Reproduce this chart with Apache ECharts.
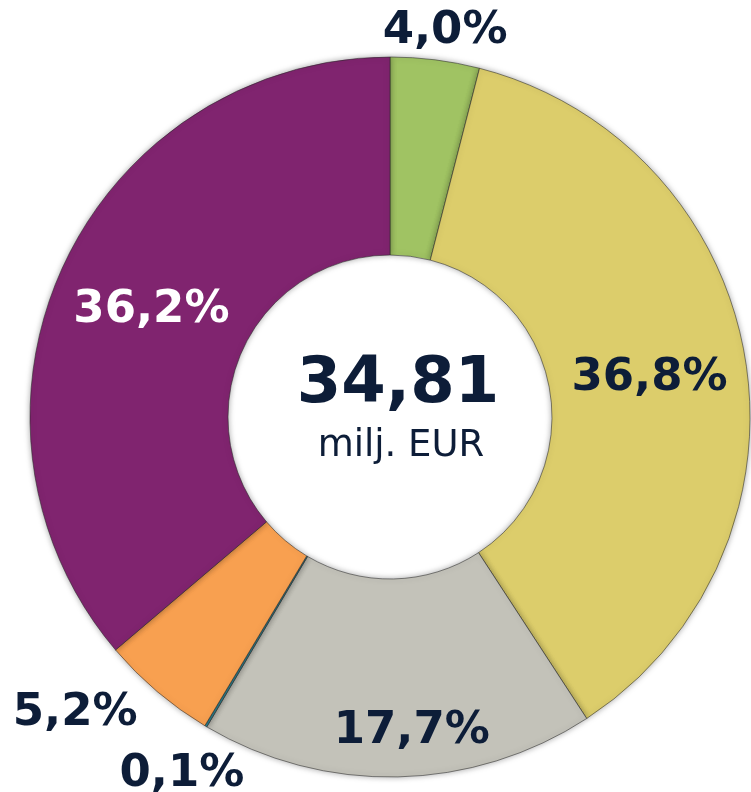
<!DOCTYPE html>
<html lang="fi">
    <head>
        <meta charset="UTF-8">
        <script src="https://cdn.jsdelivr.net/npm/echarts@6/dist/echarts.min.js"></script>
        <title>34,81 milj. EUR</title>
        <style>
            html, body { margin: 0; padding: 0; background: #fff; }
        </style>
    </head>
    <body>
        <div id="main" style="width: 751px; height: 792px;"></div>
    </body>
    <script>
        // osuudet myötäpäivään klo 12:sta alkaen
        var shares = [4.0, 36.8, 17.7, 0.1, 5.2, 36.2];
        var colors = ["#a0c363", "#dccd6b", "#c3c2b9", "#2f8d9c", "#f8a050", "#80246f"];
        var labelColors = ["#0d1d38", "#0d1d38", "#0d1d38", "#0d1d38", "#0d1d38", "#ffffff"];
        var totalText = "34,81";
        var unitText = "milj. EUR";

        // labelien siirto sektorin keskikohdasta (px)
        var labelOffsets = [[22, -124], [-1, 4], [16, 50], [-73, 130], [-144, 95], [1, 4]];

        var data = shares.map(function (v, i) {
            return {
                value: v,
                itemStyle: { color: colors[i] },
                label: {
                    color: labelColors[i],
                    offset: labelOffsets[i]
                }
            };
        });

        var myCharts = echarts.init(document.querySelector("#main"));
        var option = {
            animation: false,
            graphic: [
                {
                    type: "text",
                    x: 398,
                    y: 385,
                    style: {
                        text: totalText,
                        align: "center",
                        verticalAlign: "middle",
                        fill: "#0d1d38",
                        font: "bold 64px 'DejaVu Sans'"
                    },
                    z: 10
                },
                {
                    type: "text",
                    x: 401,
                    y: 446,
                    style: {
                        text: unitText,
                        align: "center",
                        verticalAlign: "middle",
                        fill: "#0d1d38",
                        font: "37px 'DejaVu Sans'"
                    },
                    z: 10
                }
            ],
            series: [
                {
                    type: "pie",
                    center: [390, 417],
                    radius: [162, 360],
                    startAngle: 90,
                    clockwise: true,
                    avoidLabelOverlap: false,
                    emphasis: { disabled: true },
                    itemStyle: {
                        borderColor: "rgba(40,40,40,0.55)",
                        borderWidth: 1,
                        shadowBlur: 6,
                        shadowColor: "rgba(0,0,0,0.35)"
                    },
                    label: {
                        show: true,
                        position: "inside",
                        fontFamily: "DejaVu Sans",
                        fontWeight: "bold",
                        fontSize: 45,
                        formatter: function (p) {
                            return p.value.toFixed(1).replace(".", ",") + "%";
                        }
                    },
                    labelLine: { show: false },
                    data: data
                }
            ]
        };
        myCharts.setOption(option);
    </script>
</html>
